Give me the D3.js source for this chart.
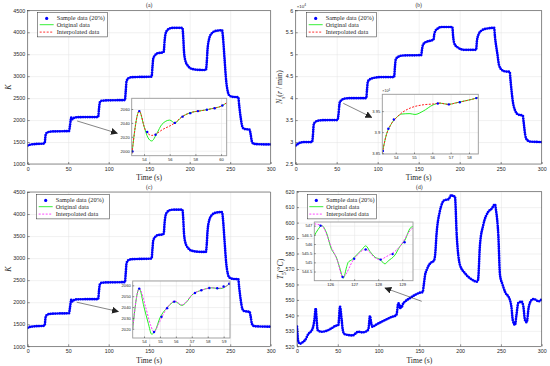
<!DOCTYPE html>
<html lang="en">
<head>
<meta charset="UTF-8">
<title>Sampling and interpolation</title>
<style>
  body { margin: 0; background: #fff; }
  text { fill: #262626; }
</style>
<script src="https://cdn.jsdelivr.net/npm/d3@7"></script>
</head>
<body>
<script>
const SANS = "'Liberation Sans', Arial, sans-serif";
const SERIF = "'Liberation Serif', 'Times New Roman', serif";

// ---- data ----
const timeTicks = [0, 50, 100, 150, 200, 250, 300];
const kTicks = [1000, 1500, 2000, 2500, 3000, 3500, 4000, 4500];
const nTicks = [25000, 30000, 35000, 40000, 45000, 50000, 55000, 60000];
const tTicks = [520, 530, 540, 550, 560, 570, 580, 590, 600, 610, 620];
const legendLabels = ["Sample data (20%)", "Original data", "Interpolated data"];

// K over time (panels a and c)
const kSeries = [[0,1420],[3,1440],[10,1455],[20,1465],[21,1475],[22,1650],[23,1700],[25,1725],[30,1740],[51,1750],
  [52,1850],[53.1,1996],[53.63,2057],[54.6,2014],[56,2044],[56.4,2040],[57.5,2054],[60,2064],[70,2068],[87,2070],
  [88,2250],[89,2400],[91,2440],[100,2450],[120,2455],[121,2650],[122,2880],[124,2950],[128,2975],[153,2990],
  [154,3200],[155,3400],[157,3470],[160,3520],[167,3540],[168,3560],[169,3800],[170,3950],[172,4040],[176,4090],
  [180,4100],[191,4100],[192,3900],[193,3550],[195,3330],[198,3230],[202,3170],[210,3145],[220,3140],[221,3300],
  [222,3600],[224,3850],[227,3970],[232,4030],[240,4045],[241,3900],[243,3400],[245,2900],[247,2650],[249,2560],
  [253,2530],[260,2520],[261,2350],[263,2050],[265,1850],[267,1800],[274,1780],[275,1700],[277,1500],[279,1460],
  [285,1450],[300,1445]];

// Ns over time (panel b), r/min
const nSeries = [[0,29200],[3,29600],[6,29900],[12,30000],[20,30000],[21,31500],[22,34000],[24,34600],[28,34900],
  [40,35000],[51,35000],[52,36000],[53.3,38500],[54,39300],[55,39400],[57,39700],[60,39900],[70,40000],[86,40000],
  [87,42000],[88,43800],[90,44200],[95,44600],[105,44800],[120,44800],[121,47000],[122,48800],[125,49400],[130,49700],
  [153,49800],[154,51000],[155,52000],[158,52700],[165,53100],[168,53300],[169,54500],[170,55200],[173,55800],
  [178,56200],[191,56200],[192,54000],[194,52200],[198,51500],[205,51000],[220,51000],[221,53000],[223,54500],
  [226,55300],[232,55800],[242,56000],[243,54000],[246,50000],[248,47500],[251,46500],[255,46100],[261,46000],
  [262,44000],[265,39000],[268,37000],[271,36300],[277,36000],[278,34500],[280,31500],[282,30500],[286,30100],[300,30000]];

// T5 over time (panel d), degC
const t5Series = [[0,532.7],[1.6,523],[3.7,521.7],[7.8,523],[10,524],[13.9,528],[17,529.5],[20,533],[21.5,538],
  [22.9,544.6],[24,538],[25.3,530.5],[30,529.4],[35,529.8],[38.4,530.5],[42,531.5],[46.6,533.1],[50.7,533.8],
  [52.7,545.6],[54.8,537],[56,531],[58,528],[62.9,527.3],[68,527],[75.2,529.4],[80,529],[85.4,529.8],[87.5,531],
  [89.5,539.6],[91,535],[92.3,532.7],[97,534],[103.8,535.9],[110,537.5],[116,539],[120,539.6],[122,540.5],
  [124.2,547.8],[125.7,547],[126.55,544.2],[127.5,545.9],[128.3,545],[129.4,546.9],[132.4,548.9],[138,551],
  [144.7,553.2],[150.8,554.7],[154,555],[155.5,560],[157,566],[159,569.4],[163,573.5],[168,575.5],[169.5,580],
  [171,592],[175,607],[181,614.6],[185.5,615],[189.6,618],[191,617],[193.6,617],[195.8,592],[199.8,572.6],
  [206,567.2],[214,563.3],[220.7,561.8],[222,563],[224.3,585.5],[228.4,598.5],[234.5,607],[238.7,609],
  [242.7,611.8],[244,608],[246.8,592],[248.9,566],[252,560],[255,555.3],[261,550],[263,545],[264.5,537],
  [267.3,533.8],[269,540],[271.3,548],[275.4,548.9],[277.5,545.8],[279.5,537],[281.6,535.5],[284,545],
  [287.7,550],[290,550.6],[293,550],[296,549],[300,550.5]];

// zoomed insets
const insetAOrig = [[53.06,1996],[53.63,2057],[54.0,2035],[54.3,2019],[54.6,2014],[55.0,2025],[55.4,2038],[56.0,2044],
  [56.4,2040],[56.9,2048],[57.5,2054],[58.6,2058],[59.4,2061],[60.0,2064],[60.44,2069]];
const insetAInterp = [[53.06,1996],[53.63,2057],[54.1,2030],[54.6,2022],[55.5,2031],[56.4,2040],[56.9,2048],
  [57.5,2054],[58.6,2058],[59.4,2061],[60.0,2064],[60.44,2069]];
const insetASample = [[53.1,1999],[53.63,2057],[54.25,2027],[54.9,2023],[56.4,2040],[57.0,2049],[57.6,2054],
  [58.2,2057],[58.9,2059],[59.5,2061],[60.1,2065]];

const insetBOrig = [[53.27,38500],[53.5,38950],[53.7,39150],[54.05,39350],[54.33,39430],[54.78,39440],[55.05,39420],
  [55.5,39500],[56.05,39650],[56.42,39690],[56.87,39660],[57.33,39700],[58.06,39770],[58.51,39820]];
const insetBInterp = [[53.27,38500],[53.5,38950],[53.7,39150],[54.05,39350],[54.4,39480],[54.78,39570],[55.5,39650],
  [56.05,39670],[56.42,39690],[56.87,39660],[57.33,39700],[58.06,39770],[58.51,39820]];
const insetBSample = [[53.3,38550],[53.6,39080],[53.9,39300],[56.3,39680],[56.9,39660],[57.5,39710],[58.4,39810]];

const insetCOrig = [[53.29,2020],[53.7,2057],[54.0,2040],[54.27,2025],[54.48,2015],[54.7,2018],[55.0,2030],
  [55.43,2039],[55.95,2045],[56.37,2041.5],[56.69,2045],[57.0,2051],[57.63,2055.6],[58.26,2057.7],[58.78,2057],
  [59.3,2060.7],[59.4,2062]];
const insetCInterp = [[53.29,2020],[53.7,2057],[54.1,2040],[54.4,2024],[54.63,2017],[54.9,2024],[55.2,2033],
  [55.43,2039],[55.95,2045.5],[56.37,2042],[56.69,2045.5],[57.0,2051],[57.63,2055.6],[58.26,2057.7],[58.78,2057.5],
  [59.3,2060.7],[59.4,2062]];
const insetCSample = [[53.7,2057],[54.63,2017],[55.1,2031],[55.45,2039],[55.9,2045],[57.2,2053],[57.6,2055.5],
  [58.1,2057.5],[58.6,2057.3],[59.0,2059],[59.35,2061.5]];

const insetDOrig = [[125.34,546.45],[125.5,546.8],[125.65,547.0],[125.85,546.6],[126.06,545.7],[126.16,545.5],
  [126.27,545.23],[126.4,544.7],[126.55,544.14],[126.69,544.77],[126.75,545.0],[126.9,545.14],[127.1,545.4],
  [127.31,545.68],[127.48,545.9],[127.66,545.59],[127.87,545.28],[128.07,545.17],[128.28,544.92],[128.42,545.08],
  [128.7,545.4],[128.9,545.86],[129.12,546.22],[129.33,546.86],[129.45,546.95]];
const insetDInterp = [[125.34,547.1],[125.65,547.0],[126.06,545.8],[126.3,545.1],[126.52,544.2],[127.0,545.2],
  [127.48,545.7],[127.87,545.25],[128.07,545.15],[128.35,545.32],[128.9,545.86],[129.33,546.73],[129.45,546.9]];
const insetDSample = [[125.6,547.0],[126.52,544.2],[127.0,545.2],[127.48,545.7],[128.1,545.15],[128.6,545.45],[129.1,546.1]];

// arrows from the curve to each inset, in data units
const arrowA = [[61,1980],[110.6,1700]];
const arrowB = [[58,38820],[92.7,35630]];
const arrowC = [[60.5,2000],[111.9,1789]];
const arrowD = [[152.9,549.1],[107.9,557.7]];

// ---- drawing ----
const svg = d3.select("body").append("svg").attr("width", 550).attr("height", 366);

svg.append("defs").append("marker")
    .attr("id", "arrowhead").attr("viewBox", "0 0 10 10")
    .attr("refX", 9).attr("refY", 5)
    .attr("markerWidth", 7).attr("markerHeight", 7)
    .attr("markerUnits", "userSpaceOnUse")
    .attr("orient", "auto")
    .append("path").attr("d", "M0,0 L10,5 L0,10 z").attr("fill", "#222");

let clipCount = 0;

function styleAxis(sel, size) {
    sel.attr("font-family", SANS).attr("font-size", size);
    sel.select(".domain").remove();
    sel.selectAll("line").attr("stroke", "#262626").attr("stroke-width", 0.5);
    sel.selectAll("text").attr("fill", "#262626");
}

function grid(g, x, y, xt, yt, box) {
    g.append("g").attr("transform", `translate(0,${box.bottom})`)
        .call(d3.axisBottom(x).tickValues(xt).tickSize(-(box.bottom - box.top)).tickFormat(""))
        .call(s => { s.select(".domain").remove(); s.selectAll("line").attr("stroke", "#e3e3e3").attr("stroke-width", 0.5); });
    g.append("g").attr("transform", `translate(${box.left},0)`)
        .call(d3.axisLeft(y).tickValues(yt).tickSize(-(box.right - box.left)).tickFormat(""))
        .call(s => { s.select(".domain").remove(); s.selectAll("line").attr("stroke", "#e3e3e3").attr("stroke-width", 0.5); });
}

function clipFor(box) {
    const id = "clip" + (clipCount++);
    svg.select("defs").append("clipPath").attr("id", id)
        .append("rect").attr("x", box.left).attr("y", box.top)
        .attr("width", box.right - box.left).attr("height", box.bottom - box.top);
    return `url(#${id})`;
}

function drawMain(p) {
    const x = d3.scaleLinear().domain([0, 300]).range([p.left, p.right]);
    const y = d3.scaleLinear().domain(p.yDomain).range([p.bottom, p.top]);
    const g = svg.append("g");

    grid(g, x, y, timeTicks, p.yTicks, p);

    const line = d3.line().x(d => x(d[0])).y(d => y(d[1])).curve(d3.curveMonotoneX);
    const data = g.append("g").attr("clip-path", clipFor(p));
    data.append("path").attr("d", line(p.series)).attr("fill", "none")
        .attr("stroke", "#22ee22").attr("stroke-width", 0.9);
    data.append("path").attr("d", line(p.series)).attr("fill", "none")
        .attr("stroke", p.dash).attr("stroke-width", 0.9).attr("stroke-dasharray", "2 1.5");
    data.append("path").attr("d", line(p.series)).attr("fill", "none")
        .attr("stroke", "#0000ff").attr("stroke-width", 2.7)
        .attr("stroke-linecap", "round").attr("stroke-dasharray", "0 2.3");

    g.append("rect").attr("x", p.left).attr("y", p.top)
        .attr("width", p.right - p.left).attr("height", p.bottom - p.top)
        .attr("fill", "none").attr("stroke", "#262626").attr("stroke-width", 0.5);

    g.append("g").attr("transform", `translate(0,${p.bottom})`)
        .call(d3.axisBottom(x).tickValues(timeTicks).tickSize(-2).tickPadding(3.2))
        .call(s => styleAxis(s, 5.3));
    g.append("g").attr("transform", `translate(${p.left},0)`)
        .call(d3.axisLeft(y).tickValues(p.yTicks).tickSize(-2).tickPadding(2.6).tickFormat(p.yFormat))
        .call(s => styleAxis(s, 5.3));

    const cx = (p.left + p.right) / 2;
    g.append("text").attr("x", cx).attr("y", p.top - 3)
        .attr("text-anchor", "middle").attr("font-family", SERIF).attr("font-size", 5.6).text(p.title);
    g.append("text").attr("x", cx).attr("y", p.bottom + 16.2)
        .attr("text-anchor", "middle").attr("font-family", SERIF).attr("font-size", 7.6).text("Time (s)");

    const yl = g.append("text")
        .attr("transform", `translate(${p.yLabelX},${(p.top + p.bottom) / 2}) rotate(-90)`)
        .attr("text-anchor", "middle").attr("font-family", SERIF).attr("font-size", 7.8);
    p.yLabel.forEach(part => {
        const t = yl.append("tspan").text(part.t);
        if (part.i) t.attr("font-style", "italic");
        if (part.sub) t.attr("font-size", 5.4).attr("baseline-shift", "sub");
    });

    if (p.exponent) {
        const e = g.append("text").attr("x", p.left + 1).attr("y", p.top - 2.5)
            .attr("font-family", SANS).attr("font-size", 4.4);
        e.append("tspan").text("×10");
        e.append("tspan").attr("font-size", 3.2).attr("dy", -1.8).text("4");
    }

    // legend
    const lg = g.append("g").attr("transform", `translate(${p.left + p.legend[0]},${p.top + p.legend[1]})`);
    lg.append("rect").attr("width", p.legend[2]).attr("height", 24.2)
        .attr("fill", "#fff").attr("stroke", "#262626").attr("stroke-width", 0.5);
    const rows = [5.7, 12, 19.4];
    lg.append("circle").attr("cx", 9).attr("cy", rows[0]).attr("r", 1.6).attr("fill", "#0000ff");
    lg.append("line").attr("x1", 2).attr("x2", 16).attr("y1", rows[1]).attr("y2", rows[1])
        .attr("stroke", "#22ee22").attr("stroke-width", 0.9);
    lg.append("line").attr("x1", 2).attr("x2", 16).attr("y1", rows[2]).attr("y2", rows[2])
        .attr("stroke", p.dash).attr("stroke-width", 0.9).attr("stroke-dasharray", "2 1.5");
    lg.selectAll("text").data(legendLabels).join("text")
        .attr("x", 19).attr("y", (d, i) => rows[i] + 2)
        .attr("font-family", SERIF).attr("font-size", 6.3).text(d => d);

    return { x, y };
}

function drawInset(q, dash) {
    const x = d3.scaleLinear().domain(q.xDomain).range([q.left, q.right]);
    const y = d3.scaleLinear().domain(q.yDomain).range([q.bottom, q.top]);
    const g = svg.append("g");
    g.append("rect").attr("x", q.left).attr("y", q.top)
        .attr("width", q.right - q.left).attr("height", q.bottom - q.top).attr("fill", "#fff");
    grid(g, x, y, q.xTicks, q.yTicks, q);

    const line = d3.line().x(d => x(d[0])).y(d => y(d[1])).curve(d3.curveMonotoneX);
    const data = g.append("g").attr("clip-path", clipFor(q));
    data.append("path").attr("d", line(q.orig)).attr("fill", "none")
        .attr("stroke", "#22ee22").attr("stroke-width", 1);
    data.append("path").attr("d", line(q.interp)).attr("fill", "none")
        .attr("stroke", dash).attr("stroke-width", 1).attr("stroke-dasharray", "2 1.4");
    data.selectAll("circle").data(q.sample).join("circle")
        .attr("cx", d => x(d[0])).attr("cy", d => y(d[1])).attr("r", 1.2).attr("fill", "#0000ff");

    g.append("rect").attr("x", q.left).attr("y", q.top)
        .attr("width", q.right - q.left).attr("height", q.bottom - q.top)
        .attr("fill", "none").attr("stroke", "#999").attr("stroke-width", 0.9);

    g.append("g").attr("transform", `translate(0,${q.bottom})`)
        .call(d3.axisBottom(x).tickValues(q.xTicks).tickSize(-1.5).tickPadding(2.4).tickFormat(d3.format("d")))
        .call(s => styleAxis(s, 4.1));
    g.append("g").attr("transform", `translate(${q.left},0)`)
        .call(d3.axisLeft(y).tickValues(q.yTicks).tickSize(-1.5).tickPadding(2).tickFormat(q.yFormat))
        .call(s => styleAxis(s, 4.1));

    if (q.exponent) {
        const e = g.append("text").attr("x", q.left).attr("y", q.top - 2)
            .attr("font-family", SANS).attr("font-size", 3.6);
        e.append("tspan").text("×10");
        e.append("tspan").attr("font-size", 2.7).attr("dy", -1.5).text("4");
    }
}

function drawArrow(s, pts) {
    svg.append("line")
        .attr("x1", s.x(pts[0][0])).attr("y1", s.y(pts[0][1]))
        .attr("x2", s.x(pts[1][0])).attr("y2", s.y(pts[1][1]))
        .attr("stroke", "#333").attr("stroke-width", 0.6)
        .attr("marker-end", "url(#arrowhead)");
}

const fmtInt = d3.format("d");
const fmtE4 = d => String(+(d / 1e4).toFixed(3));

// (a)
const sa = drawMain({ left: 27.7, right: 270.7, top: 10.3, bottom: 164, yDomain: [1000, 4500], yTicks: kTicks,
    yFormat: fmtInt, series: kSeries, dash: "#ff1a1a", title: "(a)", legend: [10, 2.4, 69.6], yLabelX: 11,
    yLabel: [{ t: "K", i: true }] });
drawInset({ left: 131.7, right: 226.7, top: 98.3, bottom: 155.7, xDomain: [53.04, 60.44], yDomain: [1992.8, 2075.4],
    xTicks: [54, 56, 58, 60], yTicks: [2000, 2020, 2040, 2060], yFormat: fmtInt,
    orig: insetAOrig, interp: insetAInterp, sample: insetASample }, "#ff1a1a");
drawArrow(sa, arrowA);

// (b)
const sb = drawMain({ left: 295.7, right: 541.7, top: 10.3, bottom: 164, yDomain: [25000, 60000], yTicks: nTicks,
    yFormat: fmtE4, series: nSeries, dash: "#ff1a1a", title: "(b)", legend: [11, 2.4, 70], yLabelX: 282,
    exponent: true,
    yLabel: [{ t: "N", i: true }, { t: "s", i: true, sub: true }, { t: "(" }, { t: "r", i: true }, { t: " / min)" }] });
drawInset({ left: 382.3, right: 478.3, top: 94.3, bottom: 154, xDomain: [53.27, 58.51], yDomain: [38480, 39900],
    xTicks: [54, 55, 56, 57, 58], yTicks: [38500, 39000, 39500], yFormat: fmtE4, exponent: true,
    orig: insetBOrig, interp: insetBInterp, sample: insetBSample }, "#ff1a1a");
drawArrow(sb, arrowB);

// (c)
const sc = drawMain({ left: 27.7, right: 270.7, top: 192, bottom: 346.3, yDomain: [1000, 4500], yTicks: kTicks,
    yFormat: fmtInt, series: kSeries, dash: "#ff33ff", title: "(c)", legend: [9, 2.7, 73], yLabelX: 11,
    yLabel: [{ t: "K", i: true }] });
drawInset({ left: 132.7, right: 230, top: 281, bottom: 338, xDomain: [53.29, 59.4], yDomain: [2011.5, 2064],
    xTicks: [54, 55, 56, 57, 58, 59], yTicks: [2020, 2030, 2040, 2050, 2060], yFormat: fmtInt,
    orig: insetCOrig, interp: insetCInterp, sample: insetCSample }, "#ff33ff");
drawArrow(sc, arrowC);

// (d)
const sd = drawMain({ left: 297, right: 541.7, top: 191.7, bottom: 346.3, yDomain: [520, 620], yTicks: tTicks,
    yFormat: fmtInt, series: t5Series, dash: "#ff33ff", title: "(d)", legend: [10.3, 3, 69.4], yLabelX: 283,
    yLabel: [{ t: "T", i: true }, { t: "5", sub: true }, { t: "(°" }, { t: "C", i: true }, { t: ")" }] });
drawInset({ left: 314.3, right: 413, top: 222, bottom: 280.7, xDomain: [125.34, 129.45], yDomain: [544.0, 547.2],
    xTicks: [126, 127, 128, 129], yTicks: [544.5, 545, 545.5, 546, 546.5, 547], yFormat: d => String(d),
    orig: insetDOrig, interp: insetDInterp, sample: insetDSample }, "#ff33ff");
drawArrow(sd, arrowD);
</script>
</body>
</html>
